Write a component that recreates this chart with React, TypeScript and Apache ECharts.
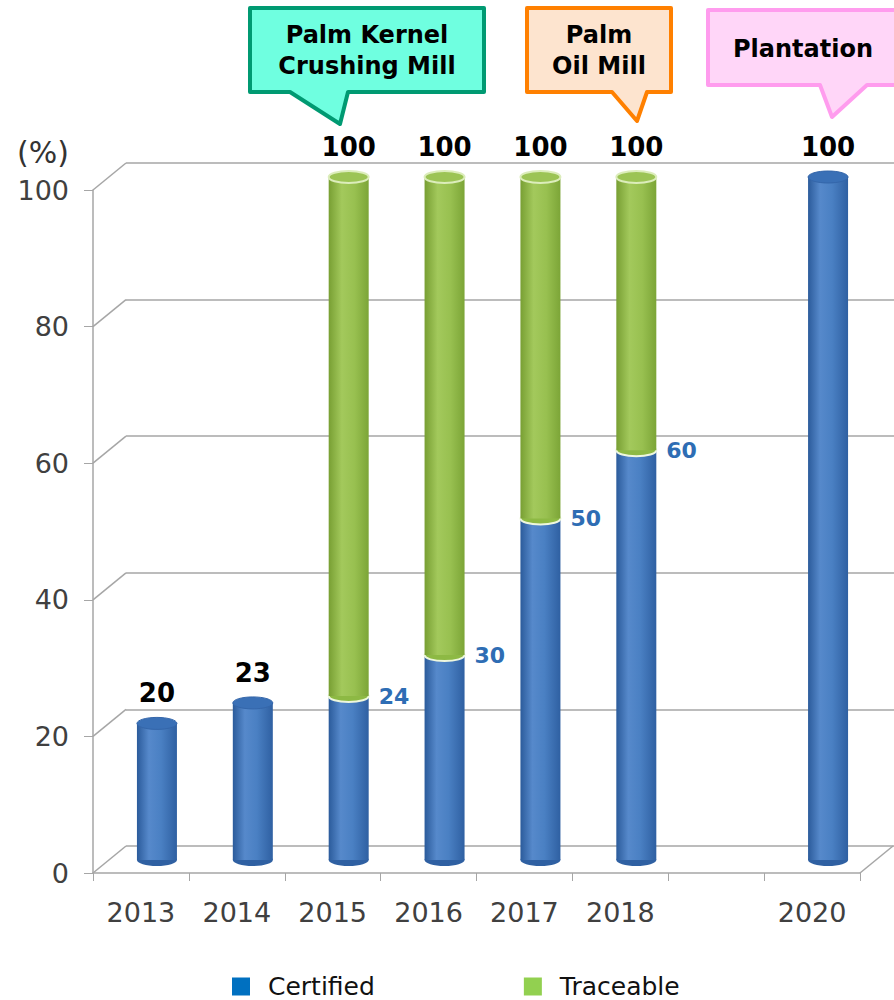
import React, { useEffect, useRef } from "react";
import * as echarts from "echarts";

const categories = ["2013", "2014", "2015", "2016", "2017", "2018", "", "2020"];
const certified: (number | null)[] = [20, 23, 24, 30, 50, 60, null, 100];
const traceable: (number | null)[] = [null, null, 100, 100, 100, 100, null, null];
const yMin = 0;
const yMax = 100;
const yInterval = 20;
const wallLevels = [0, 20, 40, 60, 80, 100];

const FONT = "DejaVu Sans";
const DX = 16;
const DY = -13;
const RX = 20;
const RY = 6;
const WALL_DX = 33;
const WALL_DY = -27;

const blueBody = {
  type: "linear", x: 0, y: 0, x2: 1, y2: 0,
  colorStops: [
    { offset: 0, color: "#2b5b9b" },
    { offset: 0.3, color: "#5689cb" },
    { offset: 0.6, color: "#4a80c3" },
    { offset: 1, color: "#2f60a2" },
  ],
};
const greenBody = {
  type: "linear", x: 0, y: 0, x2: 1, y2: 0,
  colorStops: [
    { offset: 0, color: "#789f33" },
    { offset: 0.33, color: "#a3c95c" },
    { offset: 0.65, color: "#98c050" },
    { offset: 1, color: "#7ca537" },
  ],
};

export default function App() {
  const ref = useRef<HTMLDivElement>(null);
  useEffect(() => {
    if (!ref.current) return;
    const chart = echarts.init(ref.current, null, { renderer: "svg" });

    const certData = certified
      .map((v, i) => (v == null ? null : [i, v, traceable[i] != null ? 1 : 0]))
      .filter((d) => d != null);
    const traceData = traceable
      .map((v, i) => (v == null ? null : [i, certified[i] ?? 0, v]))
      .filter((d) => d != null);

    const topLabel = (cx: number, y: number, v: number) => ({
      type: "text",
      x: cx,
      y: y - 30,
      style: {
        text: String(v),
        align: "center",
        verticalAlign: "middle",
        fontSize: 26,
        fontWeight: "bold",
        fontFamily: FONT,
        fill: "#000000",
      },
    });

    const option: any = {
      animation: false,
      backgroundColor: "#ffffff",
      grid: [
        { left: 93, top: 190, width: 767, height: 683 },
        { left: 126, top: 163, width: 768, height: 683 },
      ],
      xAxis: [
        {
          type: "category",
          gridIndex: 0,
          data: categories,
          boundaryGap: true,
          axisLine: { show: true, lineStyle: { color: "#a6a6a6", width: 1.5 } },
          axisTick: { show: true, length: 8, lineStyle: { color: "#a6a6a6" } },
          axisLabel: { color: "#404040", fontSize: 27, fontFamily: FONT, margin: 26 },
          splitLine: { show: false },
        },
        { type: "value", gridIndex: 1, show: false, min: 0, max: 1 },
      ],
      yAxis: [
        {
          type: "value",
          gridIndex: 0,
          min: yMin,
          max: yMax,
          interval: yInterval,
          axisLine: { show: true, lineStyle: { color: "#a6a6a6", width: 1.5 } },
          axisTick: { show: true, length: 9, lineStyle: { color: "#a6a6a6" } },
          axisLabel: { color: "#404040", fontSize: 27, fontFamily: FONT, margin: 24 },
          splitLine: { show: false },
        },
        {
          type: "value",
          gridIndex: 1,
          min: yMin,
          max: yMax,
          interval: yInterval,
          axisLine: { show: false },
          axisTick: { show: false },
          axisLabel: { show: false },
          splitLine: { show: true, lineStyle: { color: "#a6a6a6", width: 1.5 } },
        },
      ],
      legend: {
        data: ["Certified", "Traceable"],
        left: 232,
        top: 974,
        padding: 0,
        icon: "rect",
        itemWidth: 18,
        itemHeight: 18,
        itemGap: 149,
        textStyle: { fontSize: 25, fontFamily: FONT, color: "#111", padding: [0, 0, 0, 13] },
      },
      series: [
        {
          type: "custom",
          name: "walls",
          xAxisIndex: 0,
          yAxisIndex: 0,
          clip: false,
          silent: true,
          z: 1,
          data: wallLevels.map((v) => [0, v]),
          renderItem: (params: any, api: any) => {
            const cs = params.coordSys;
            const v = api.value(1);
            const y = api.coord([0, v])[1];
            const x0 = cs.x;
            const children: any[] = [
              {
                type: "line",
                shape: { x1: x0, y1: y, x2: x0 + WALL_DX, y2: y + WALL_DY },
                style: { stroke: "#a6a6a6", lineWidth: 1.5 },
              },
            ];
            if (v === 0) {
              const x1 = cs.x + cs.width;
              children.push({
                type: "line",
                shape: { x1: x1, y1: y, x2: x1 + WALL_DX, y2: y + WALL_DY },
                style: { stroke: "#a6a6a6", lineWidth: 1.5 },
              });
            }
            return { type: "group", children };
          },
        },
        {
          type: "custom",
          name: "Certified",
          xAxisIndex: 0,
          yAxisIndex: 0,
          clip: false,
          z: 3,
          itemStyle: { color: "#0070c0" },
          data: certData,
          renderItem: (params: any, api: any) => {
            const i = api.value(0);
            const v = api.value(1);
            const hasT = api.value(2) === 1;
            const top = api.coord([i, v]);
            const base = api.coord([i, 0]);
            const cx = top[0] + DX;
            const yT = top[1] + DY;
            const yB = base[1] + DY;
            const children: any[] = [
              { type: "ellipse", shape: { cx, cy: yB, rx: RX, ry: RY }, style: { fill: "#2f60a2" } },
              { type: "rect", shape: { x: cx - RX, y: yT, width: RX * 2, height: yB - yT }, style: { fill: blueBody } },
            ];
            if (!hasT) {
              children.push({
                type: "ellipse",
                shape: { cx, cy: yT, rx: RX, ry: RY },
                style: { fill: "#3a70b6", stroke: "#3466aa", lineWidth: 1 },
              });
              children.push(topLabel(cx, yT, v));
            } else {
              children.push({
                type: "text",
                x: cx + RX + 10,
                y: yT,
                style: {
                  text: String(v),
                  align: "left",
                  verticalAlign: "middle",
                  fontSize: 22,
                  fontWeight: "bold",
                  fontFamily: FONT,
                  fill: "#2e6db4",
                },
              });
            }
            return { type: "group", children };
          },
        },
        {
          type: "custom",
          name: "Traceable",
          xAxisIndex: 0,
          yAxisIndex: 0,
          clip: false,
          z: 4,
          itemStyle: { color: "#92d050" },
          data: traceData,
          renderItem: (params: any, api: any) => {
            const i = api.value(0);
            const v0 = api.value(1);
            const v1 = api.value(2);
            const top = api.coord([i, v1]);
            const bot = api.coord([i, v0]);
            const cx = top[0] + DX;
            const yT = top[1] + DY;
            const yB = bot[1] + DY;
            const children: any[] = [
              {
                type: "ellipse",
                shape: { cx, cy: yB, rx: RX, ry: RY },
                style: { fill: "#8db944", stroke: "#eef7de", lineWidth: 2 },
              },
              { type: "rect", shape: { x: cx - RX, y: yT, width: RX * 2, height: yB - yT }, style: { fill: greenBody } },
              {
                type: "ellipse",
                shape: { cx, cy: yT, rx: RX, ry: RY },
                style: { fill: "#9cc455", stroke: "#dcedbb", lineWidth: 2 },
              },
              topLabel(cx, yT, v1),
            ];
            return { type: "group", children };
          },
        },
      ],
      graphic: [
        {
          type: "text",
          left: 17,
          top: 137,
          style: { text: "(%)", fontSize: 30, fontFamily: FONT, fill: "#333333" },
        },
        {
          type: "polygon",
          shape: {
            points: [[250, 8], [484, 8], [484, 92], [348, 92], [340, 124], [290, 92], [250, 92]],
          },
          style: { fill: "#6fffe0", stroke: "#009a72", lineWidth: 4, lineJoin: "round" },
        },
        {
          type: "text",
          x: 367,
          y: 35,
          style: {
            text: "Palm Kernel",
            align: "center",
            verticalAlign: "middle",
            fontSize: 24,
            fontWeight: "bold",
            fontFamily: FONT,
            fill: "#000",
          },
        },
        {
          type: "text",
          x: 367,
          y: 66,
          style: {
            text: "Crushing Mill",
            align: "center",
            verticalAlign: "middle",
            fontSize: 24,
            fontWeight: "bold",
            fontFamily: FONT,
            fill: "#000",
          },
        },
        {
          type: "polygon",
          shape: {
            points: [[527, 8], [671, 8], [671, 92], [647, 92], [637, 121], [612, 92], [527, 92]],
          },
          style: { fill: "#fde4cf", stroke: "#ff8000", lineWidth: 4, lineJoin: "round" },
        },
        {
          type: "text",
          x: 599,
          y: 35,
          style: {
            text: "Palm",
            align: "center",
            verticalAlign: "middle",
            fontSize: 24,
            fontWeight: "bold",
            fontFamily: FONT,
            fill: "#000",
          },
        },
        {
          type: "text",
          x: 599,
          y: 66,
          style: {
            text: "Oil Mill",
            align: "center",
            verticalAlign: "middle",
            fontSize: 24,
            fontWeight: "bold",
            fontFamily: FONT,
            fill: "#000",
          },
        },
        {
          type: "polygon",
          shape: {
            points: [[708, 10], [900, 10], [900, 85], [867, 85], [832, 117], [820, 85], [708, 85]],
          },
          style: { fill: "#ffd6f8", stroke: "#ff9cee", lineWidth: 4, lineJoin: "round" },
        },
        {
          type: "text",
          x: 803,
          y: 49,
          style: {
            text: "Plantation",
            align: "center",
            verticalAlign: "middle",
            fontSize: 24,
            fontWeight: "bold",
            fontFamily: FONT,
            fill: "#000",
          },
        },
      ],
    };
    chart.setOption(option);
    return () => chart.dispose();
  }, []);

  return (
    <div
      ref={ref}
      style={{ position: "fixed", left: 0, top: 0, width: 894, height: 1000 }}
    />
  );
}
